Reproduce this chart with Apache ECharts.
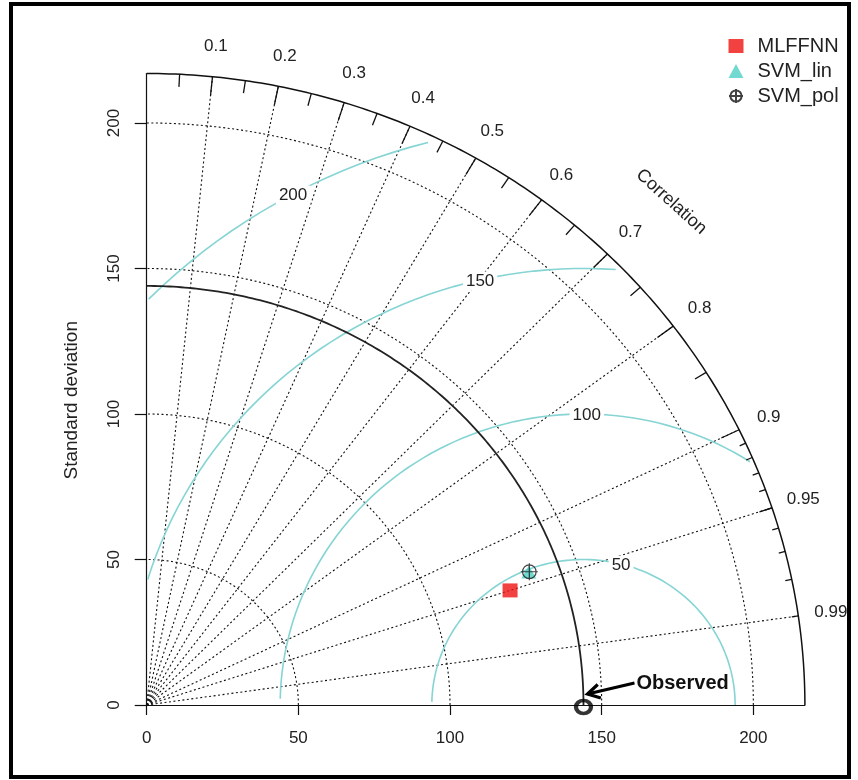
<!DOCTYPE html>
<html><head><meta charset="utf-8">
<script src="https://cdn.jsdelivr.net/npm/echarts@6/dist/echarts.min.js"></script>
<style>html,body{margin:0;padding:0;background:#fff}#c{width:858px;height:780px}</style>
</head><body><div id="c"></div>
<script>
// ---- data ----
const modelNames = ['MLFFNN', 'SVM_lin', 'SVM_pol'];
const modelSD = [126.1, 134.0, 134.2];
const modelCorr = [0.950, 0.940, 0.940];
const refSD = 144;
const maxSD = 217;
const sdTicks = [0, 50, 100, 150, 200];
const sdGridValues = [50, 100, 150, 200];
const corrLabels = [0.1, 0.2, 0.3, 0.4, 0.5, 0.6, 0.7, 0.8, 0.9, 0.95, 0.99];
const corrMajorTicks = [0.1, 0.2, 0.3, 0.4, 0.5, 0.6, 0.7, 0.8, 0.9];
const corrMediumTicks = [0.05, 0.15, 0.25, 0.35, 0.45, 0.55, 0.65, 0.75, 0.85, 0.95];
const corrMinorTicks = [0.91, 0.92, 0.93, 0.94, 0.95, 0.96, 0.97, 0.98, 0.99];
const rmsLevels = [50, 100, 150, 200];

const FONT = '"Liberation Sans", Arial, sans-serif';
const TXT = '#222';
const RMS_COLOR = '#86d4d4';
const DOT = [2, 2.5];

function toXY(sd, c) { return [sd * c, sd * Math.sqrt(1 - c * c)]; }

function arcPoints(api, r) {
  const pts = [];
  for (let a = 0; a <= 90.0001; a += 0.5) {
    const t = a * Math.PI / 180;
    pts.push(api.coord([r * Math.cos(t), r * Math.sin(t)]));
  }
  return pts;
}

// RMS contour geometry (plotrix style)
const thetaSeq = [];
for (let k = 0; k * 0.03 <= Math.PI; k++) thetaSeq.push(k * 0.03);
function rmsCurve(g) {
  const xc = thetaSeq.map(t => Math.cos(t) * g + refSD);
  const yc = thetaSeq.map(t => Math.sin(t) * g);
  const firstNeg = xc.findIndex(v => v < 0);
  const end = firstNeg >= 0 ? firstNeg - 1 : thetaSeq.length - 1;
  let lastOut = -1;
  xc.forEach((x, i) => { if (x * x + yc[i] * yc[i] > maxSD * maxSD) lastOut = i; });
  const start = lastOut >= 0 ? lastOut + 1 : 0;
  return { xc, yc, start, end };
}

const series = [];

// SD grid arcs (dotted)
series.push({
  type: 'custom', silent: true, z: 1,
  data: sdGridValues.map(v => [v]),
  renderItem: (p, api) => ({
    type: 'polyline', shape: { points: arcPoints(api, api.value(0)) },
    style: { stroke: '#111', lineWidth: 1.1, lineDash: DOT, fill: null }
  })
});
// radial correlation lines (dotted)
series.push({
  type: 'custom', silent: true, z: 1,
  data: corrLabels.map(c => [c]),
  renderItem: (p, api) => {
    const c = api.value(0);
    const a = api.coord([0, 0]);
    const b = api.coord(toXY(maxSD, c));
    return { type: 'line', shape: { x1: a[0], y1: a[1], x2: b[0], y2: b[1] },
      style: { stroke: '#111', lineWidth: 1.1, lineDash: DOT } };
  }
});
// RMS contours
series.push({
  type: 'custom', silent: true, z: 2,
  data: rmsLevels.map(v => [v]),
  renderItem: (p, api) => {
    const cv = rmsCurve(api.value(0));
    const pts = [];
    for (let i = cv.start; i <= cv.end; i++) pts.push(api.coord([cv.xc[i], cv.yc[i]]));
    return { type: 'polyline', shape: { points: pts },
      style: { stroke: RMS_COLOR, lineWidth: 1.6, fill: null } };
  }
});
// outer boundary arc and reference arc
series.push({
  type: 'custom', silent: true, z: 3,
  data: [[maxSD], [refSD]],
  renderItem: (p, api) => ({
    type: 'polyline', shape: { points: arcPoints(api, api.value(0)) },
    style: { stroke: p.dataIndex === 0 ? '#111' : '#222', lineWidth: p.dataIndex === 0 ? 1.5 : 1.8, fill: null }
  })
});
// correlation ticks on boundary
const tickData = corrMajorTicks.map(c => [c, 0.97])
  .concat(corrMediumTicks.map(c => [c, 0.98]))
  .concat(corrMinorTicks.map(c => [c, 0.99]));
series.push({
  type: 'custom', silent: true, z: 3,
  data: tickData,
  renderItem: (p, api) => {
    const c = api.value(0), f = api.value(1);
    const a = api.coord(toXY(maxSD, c));
    const b = api.coord(toXY(maxSD * f, c));
    return { type: 'line', shape: { x1: a[0], y1: a[1], x2: b[0], y2: b[1] },
      style: { stroke: '#111', lineWidth: 1.3 } };
  }
});
// RMS labels (boxed)
series.push({
  type: 'custom', silent: true, z: 4,
  data: rmsLevels.map((v, i) => [v, i]),
  renderItem: (p, api) => {
    const g = api.value(0), i = api.value(1);
    const n = rmsLevels.length;
    const lp = 45 + (70 - 45) * (n > 1 ? i / (n - 1) : 0);
    const idx = Math.floor(lp) - 1;
    const cv = rmsCurve(g);
    if (!(cv.xc[idx] > 0)) return null;
    const pt = api.coord([cv.xc[idx], cv.yc[idx]]);
    return { type: 'text', x: pt[0], y: pt[1] + 1,
      style: { text: String(g), fill: TXT, fontFamily: FONT, fontSize: 17,
        align: 'center', verticalAlign: 'middle', backgroundColor: '#fff', padding: [1, 3] } };
  }
});
// correlation labels
series.push({
  type: 'custom', silent: true, z: 4,
  data: corrLabels.map(c => [c]),
  renderItem: (p, api) => {
    const c = api.value(0);
    const pt = api.coord(toXY(maxSD * 1.05, c));
    return { type: 'text', x: pt[0], y: pt[1] + 1,
      style: { text: String(c), fill: TXT, fontFamily: FONT, fontSize: 17,
        align: 'center', verticalAlign: 'middle' } };
  }
});
// "Correlation" title
series.push({
  type: 'custom', silent: true, z: 4,
  data: [[0.8]],
  renderItem: (p, api) => {
    const f = api.value(0);
    const pt = api.coord([maxSD * f, maxSD * f]);
    return { type: 'text', x: pt[0] - 2, y: pt[1] + 2, rotation: -42 * Math.PI / 180,
      style: { text: 'Correlation', fill: TXT, fontFamily: FONT, fontSize: 18,
        align: 'center', verticalAlign: 'middle' } };
  }
});
// Observed reference point
series.push({
  type: 'scatter', z: 6, silent: true,
  data: [[refSD, 0]],
  symbol: 'circle', symbolSize: [15, 13], symbolOffset: [0, 2],
  itemStyle: { color: 'rgba(0,0,0,0)', borderColor: '#000', borderWidth: 4 }
});
// model points
const symbols = ['rect', 'triangle', 'path://M8,0A8,8,0,1,1,-8,0A8,8,0,1,1,8,0ZM0,-10L0,10M-10,0L10,0'];
const symSizes = [[15, 14], [15, 13], 17];
const itemStyles = [
  { color: '#ee1111' },
  { color: '#4ecfc6' },
  { color: 'rgba(0,0,0,0)', borderColor: '#111', borderWidth: 1.2 }
];
modelNames.forEach((name, i) => {
  series.push({
    type: 'scatter', name, z: 10 + i,
    data: [toXY(modelSD[i], modelCorr[i])],
    symbol: symbols[i], symbolSize: symSizes[i],
    itemStyle: itemStyles[i]
  });
});

const option = {
  animation: false,
  backgroundColor: '#fff',
  grid: { left: 146.7, top: 73.5, width: 658.2, height: 631.5 },
  xAxis: {
    type: 'value', min: 0, max: maxSD,
    axisLine: { lineStyle: { color: '#111', width: 1.2 } },
    axisTick: { show: true, length: 10, customValues: sdTicks, lineStyle: { color: '#111', width: 1.2 } },
    axisLabel: { customValues: sdTicks, margin: 25, color: TXT, fontFamily: FONT, fontSize: 17 },
    splitLine: { show: false }
  },
  yAxis: {
    type: 'value', min: 0, max: maxSD,
    name: 'Standard deviation', nameLocation: 'middle', nameRotate: 90, nameGap: 65,
    nameTextStyle: { color: TXT, fontFamily: FONT, fontSize: 19, padding: [0, 22, 0, 0] },
    axisLine: { lineStyle: { color: '#111', width: 1.2 } },
    axisTick: { show: true, length: 12, customValues: sdTicks, lineStyle: { color: '#111', width: 1.2 } },
    axisLabel: { customValues: sdTicks, rotate: 90, margin: 24, color: TXT, fontFamily: FONT, fontSize: 17 },
    splitLine: { show: false }
  },
  legend: {
    data: modelNames, orient: 'vertical', left: 723, top: 31,
    itemWidth: 15, itemHeight: 14, itemGap: 5,
    textStyle: { color: TXT, fontFamily: FONT, fontSize: 20, lineHeight: 20, padding: [0, 0, 0, 9] }
  },
  series
};

const chart = echarts.init(document.getElementById('c'));
chart.setOption(option);

// annotation: arrow + "Observed", frame
const p = chart.convertToPixel({ gridIndex: 0 }, [refSD, 0]);
const tip = [p[0] + 4, p[1] - 11];
const tail = [p[0] + 51, p[1] - 22];
const dx = tail[0] - tip[0], dy = tail[1] - tip[1];
const ang = Math.atan2(dy, dx);
const arm = 14;
const a1 = [tip[0] + arm * Math.cos(ang + 0.52), tip[1] + arm * Math.sin(ang + 0.52)];
const a2 = [tip[0] + arm * Math.cos(ang - 0.52), tip[1] + arm * Math.sin(ang - 0.52)];
chart.setOption({
  graphic: [
    { type: 'line', shape: { x1: tail[0], y1: tail[1], x2: tip[0], y2: tip[1] },
      style: { stroke: '#000', lineWidth: 3.2 }, z: 20 },
    { type: 'polyline', shape: { points: [a1, tip, a2] },
      style: { stroke: '#000', lineWidth: 3.2, fill: null, lineJoin: 'miter' }, z: 20 },
    { type: 'text', x: tail[0] + 2, y: tail[1],
      style: { text: 'Observed', fill: '#111', font: 'bold 20px "Liberation Sans", Arial, sans-serif',
        align: 'left', verticalAlign: 'middle' }, z: 20 },
    { type: 'rect', shape: { x: 11, y: 4, width: 838, height: 773 },
      style: { stroke: '#000', lineWidth: 4, fill: null }, z: 30 }
  ]
});
</script>
</body></html>
